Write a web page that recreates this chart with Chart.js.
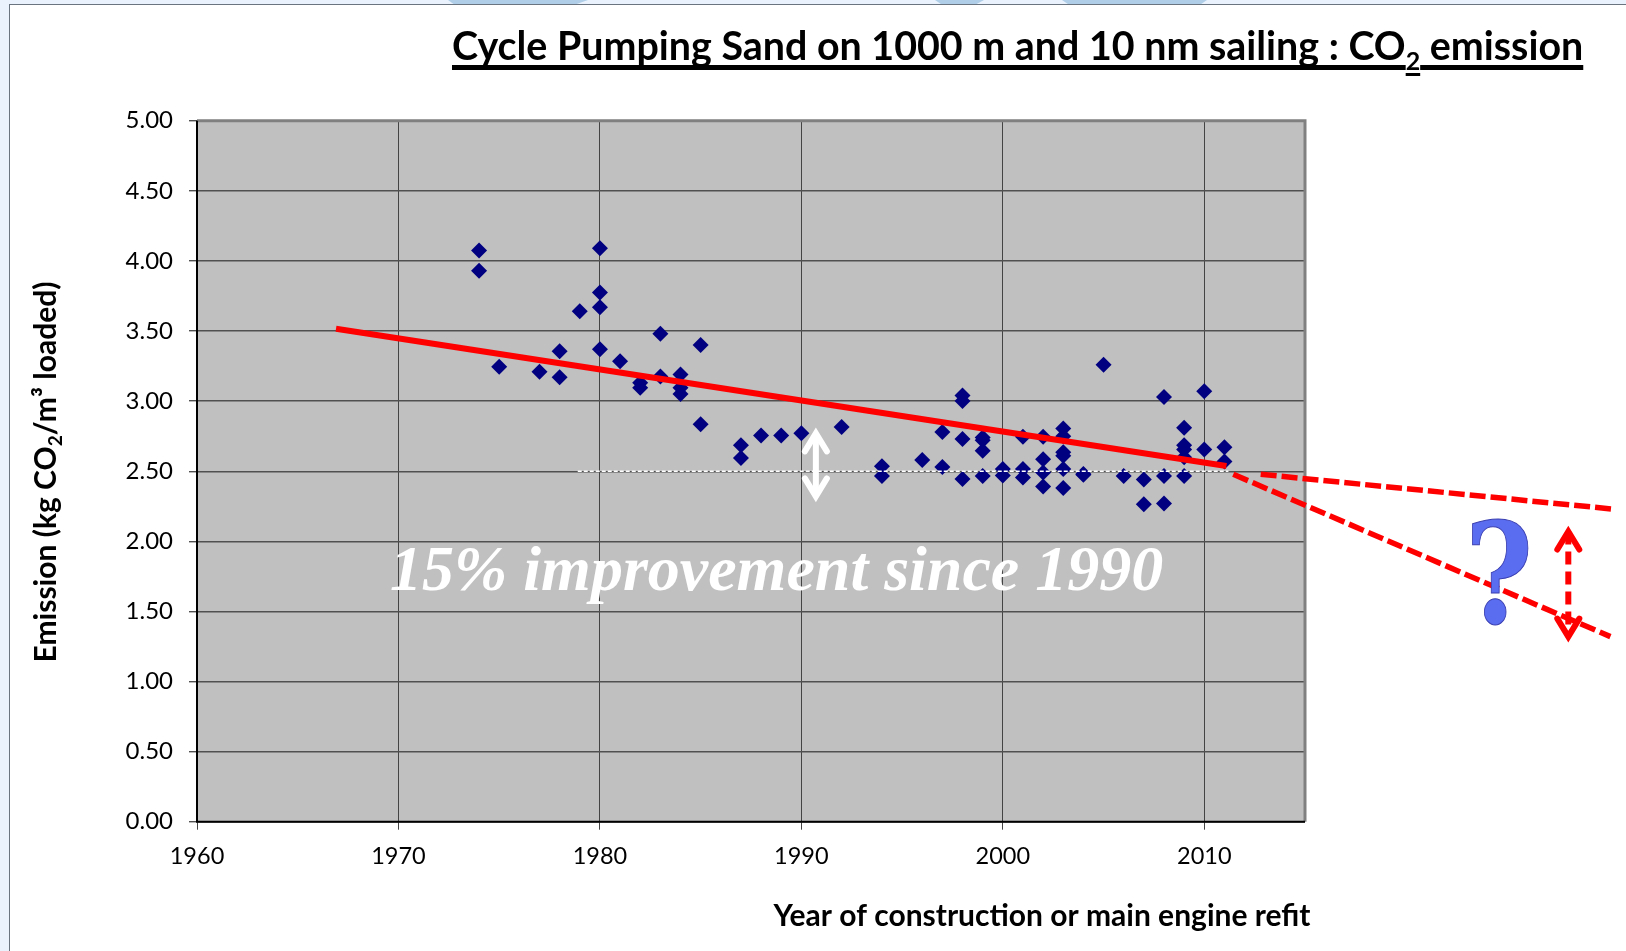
<!DOCTYPE html>
<html><head><meta charset="utf-8">
<style>
html,body{margin:0;padding:0;background:#fff;overflow:hidden}
#wrap{position:relative;width:1626px;height:951px;overflow:hidden;background:#eaf3fd}
.band{position:absolute;top:0;height:4px;background:#b0cee8;}
#panel{position:absolute;left:9px;top:4px;right:0;bottom:0;background:#fff;border-left:1px solid #6a7480;border-top:1px solid #6a7480}
canvas{position:absolute;left:0;top:0}
</style></head><body>
<div id="wrap">
<div class="band" style="left:448px;width:140px;clip-path:polygon(0 0,100% 0,92% 100%,4% 100%)"></div>
<div class="band" style="left:935px;width:49px;clip-path:polygon(0 0,100% 0,85% 100%,12% 100%)"></div>
<div class="band" style="left:1062px;width:145px;clip-path:polygon(0 0,100% 0,96% 100%,4% 100%)"></div>
<div id="panel"></div>
<canvas id="c" width="1626" height="951"></canvas>
</div>
<script src="https://cdn.jsdelivr.net/npm/chart.js@4/dist/chart.umd.min.js"></script>
<script>
const years=[1974,1974,1980,1980,1980,1979,1983,1985,1978,1980,1981,1975,1977,1978,1983,1984,1982,1982,1984,1984,1985,1987,1987,1988,1989,1990,1992,
1994,1994,1996,1997,1997,1998,1998,1998,1998,1999,1999,1999,1999,2000,2000,2001,2001,2001,2002,2002,2002,2002,2003,2003,2003,2003,2003,2003,2004,2004,2005,2006,2007,2007,2008,2008,2008,2009,2009,2009,2009,2009,2010,2010,2011,2011];
const emissions=[4.075,3.93,4.09,3.775,3.67,3.64,3.48,3.40,3.355,3.37,3.285,3.245,3.21,3.17,3.175,3.19,3.13,3.095,3.095,3.05,2.835,2.685,2.595,2.755,2.755,2.77,2.815,
2.535,2.465,2.58,2.53,2.78,3.04,3.00,2.73,2.445,2.74,2.72,2.645,2.465,2.515,2.47,2.745,2.515,2.455,2.745,2.585,2.49,2.39,2.805,2.75,2.635,2.61,2.515,2.38,2.48,2.475,3.26,2.465,2.44,2.265,3.03,2.465,2.27,2.81,2.685,2.655,2.60,2.465,3.07,2.655,2.67,2.57];
const trendX=[1966.9,2011.1], trendY=[3.516,2.537];
const refX=[1978.9,2011.2], refY=[2.5,2.5];
const upperX=[2012.8,2030.4], upperY=[2.478,2.228];
const lowerX=[2011.44,2030.16], lowerY=[2.478,1.32];
const whiteArrowX=[1990.72,1990.72], whiteArrowY=[2.77,2.32];
const redArrowX=[2028.07,2028.07], redArrowY=[2.07,1.32];
const yTicks=[0,0.5,1,1.5,2,2.5,3,3.5,4,4.5,5];
const xTicks=[1960,1970,1980,1990,2000,2010];
const titleText='Cycle Pumping Sand on 1000 m and 10 nm sailing : CO';
const titleSub='2';
const titleEnd=' emission';
const yTitleA='Emission (kg CO', yTitleSub='2', yTitleB='/m³ loaded)';
const xTitle='Year of construction or main engine refit';
const note='15% improvement since 1990';
const zip=(a,b)=>a.map((v,i)=>({x:v,y:b[i]}));
const F='Lato, "Open Sans", sans-serif';

function arrowHead(ctx,x,y,dir,w,h,color,lw){
  ctx.save();ctx.strokeStyle=color;ctx.lineWidth=lw;ctx.lineCap='round';ctx.lineJoin='miter';
  ctx.beginPath();ctx.moveTo(x-w,y-dir*h);ctx.lineTo(x,y);ctx.lineTo(x+w,y-dir*h);ctx.stroke();ctx.restore();
}
const deco={id:'deco',
 beforeDraw(ch){
  const {ctx,chartArea:a}=ch;
  ctx.save();ctx.fillStyle='#c0c0c0';ctx.fillRect(a.left,a.top,a.right-a.left,a.bottom-a.top);ctx.restore();
 },
 beforeDatasetsDraw(ch){
  const {ctx,chartArea:a}=ch;
  ctx.save();
  ctx.strokeStyle='#808080';ctx.lineWidth=3;
  ctx.beginPath();ctx.moveTo(a.left,a.top);ctx.lineTo(a.right,a.top);ctx.lineTo(a.right,a.bottom);ctx.stroke();
  ctx.strokeStyle='#000';ctx.lineWidth=2;
  ctx.beginPath();ctx.moveTo(a.left,a.top);ctx.lineTo(a.left,a.bottom);ctx.lineTo(a.right,a.bottom);ctx.stroke();
  ctx.fillStyle='#fff';ctx.font='italic bold 64px "Liberation Serif", serif';ctx.textBaseline='alphabetic';ctx.textAlign='left';
  ctx.fillText(note,390,590);
  ctx.restore();
 },
 afterDraw(ch){
  const {ctx,scales:{x,y}}=ch;
  ctx.save();
  const hw=11,hh=18,lw=6;
  arrowHead(ctx,x.getPixelForValue(whiteArrowX[0]),y.getPixelForValue(whiteArrowY[0]),-1,hw,hh,'#fff',lw);
  arrowHead(ctx,x.getPixelForValue(whiteArrowX[1]),y.getPixelForValue(whiteArrowY[1]),1,hw,hh,'#fff',lw);
  arrowHead(ctx,x.getPixelForValue(redArrowX[0]),y.getPixelForValue(redArrowY[0]),-1,hw,hh,'#f00',lw);
  arrowHead(ctx,x.getPixelForValue(redArrowX[1]),y.getPixelForValue(redArrowY[1]),1,hw,hh,'#f00',lw);
  ctx.textBaseline='alphabetic';ctx.textAlign='left';
  // title
  ctx.fillStyle='#000';ctx.font='bold 39.4px '+F;
  const tx=452,by=60;
  ctx.fillText(titleText,tx,by);const w1=ctx.measureText(titleText).width;
  ctx.font='bold 25px '+F;ctx.fillText(titleSub,tx+w1,by+10);const w2=ctx.measureText(titleSub).width;
  ctx.font='bold 39.4px '+F;ctx.fillText(titleEnd,tx+w1+w2,by);const w3=ctx.measureText(titleEnd).width;
  ctx.fillRect(tx,65,w1,5);ctx.fillRect(tx+w1,73,w2,3);ctx.fillRect(tx+w1+w2,65,w3,5);
  // y title
  ctx.save();ctx.translate(56,472);ctx.rotate(-Math.PI/2);
  ctx.font='bold 30px '+F;
  const a1=ctx.measureText(yTitleA).width,b1=ctx.measureText(yTitleB).width;
  ctx.font='bold 19px '+F;const s1=ctx.measureText(yTitleSub).width;
  const sx=-(a1+b1+s1)/2;
  ctx.font='bold 30px '+F;ctx.fillText(yTitleA,sx,0);
  ctx.font='bold 19px '+F;ctx.fillText(yTitleSub,sx+a1,6);
  ctx.font='bold 30px '+F;ctx.fillText(yTitleB,sx+a1+s1,0);
  ctx.restore();
  // x title
  ctx.font='bold 30px '+F;ctx.textAlign='center';ctx.fillText(xTitle,1042,926);
  // question mark
  const g=ctx.createLinearGradient(0,520,0,625);g.addColorStop(0,'#5a6cf0');g.addColorStop(.7,'#4a55ee');g.addColorStop(.85,'#1a22dd');g.addColorStop(1,'#1a22dd');
  ctx.fillStyle=g;ctx.strokeStyle='#3a3fb0';ctx.lineWidth=1;ctx.font='bold 140px "DejaVu Serif", serif';ctx.textAlign='center';
  ctx.translate(1499,623);ctx.scale(0.83,1);
  ctx.fillText('?',0,0);ctx.strokeText('?',0,0);
  ctx.restore();
 }};
new Chart(document.getElementById('c'),{
 type:'scatter',
 plugins:[deco],
 data:{datasets:[
  {data:zip(refX,refY),type:'line',borderColor:'#fff',borderWidth:1.5,borderDash:[4,2],pointRadius:0,order:1.5,clip:false},
  {data:zip(years,emissions),pointStyle:'rectRot',pointRadius:8,pointBackgroundColor:'#000080',pointBorderColor:'#000080',pointBorderWidth:0,showLine:false,order:2},
  {data:zip(trendX,trendY),type:'line',borderColor:'#f00',borderWidth:6,pointRadius:0,order:1},
  {data:zip(upperX,upperY),type:'line',borderColor:'#f00',borderWidth:5.5,borderDash:[16,5],pointRadius:0,clip:false,order:0},
  {data:zip(lowerX,lowerY),type:'line',borderColor:'#f00',borderWidth:5.5,borderDash:[16,5],pointRadius:0,clip:false,order:0},
  {data:zip(whiteArrowX,whiteArrowY),type:'line',borderColor:'#fff',borderWidth:6,pointRadius:0,clip:false,order:0},
  {data:zip(redArrowX,redArrowY),type:'line',borderColor:'#f00',borderWidth:6,borderDash:[13,7],pointRadius:0,clip:false,order:0}
 ]},
 options:{
  responsive:false,animation:false,
  layout:{padding:{top:120.7,right:321,bottom:0,left:0}},
  plugins:{legend:{display:false},tooltip:{enabled:false},title:{display:false}},
  scales:{
   x:{type:'linear',min:1960,max:2015,
    afterBuildTicks(s){s.ticks=xTicks.map(v=>({value:v}));},
    afterFit(s){s.height=951-821.7;},
    grid:{color:'#444',lineWidth:1,tickLength:8,drawTicks:true},border:{display:false},
    ticks:{color:'#000',font:{family:F,size:23.5},padding:13,maxRotation:0,callback:v=>String(v)}},
   y:{min:0,max:5,
    afterBuildTicks(s){s.ticks=yTicks.map(v=>({value:v}));},
    afterFit(s){s.width=197;},
    grid:{color:'#505050',lineWidth:1.4,tickLength:8},border:{display:false},
    ticks:{color:'#000',font:{family:F,size:24},padding:16,callback:v=>v.toFixed(2)}}
  }
 },
});
</script>
</body></html>
